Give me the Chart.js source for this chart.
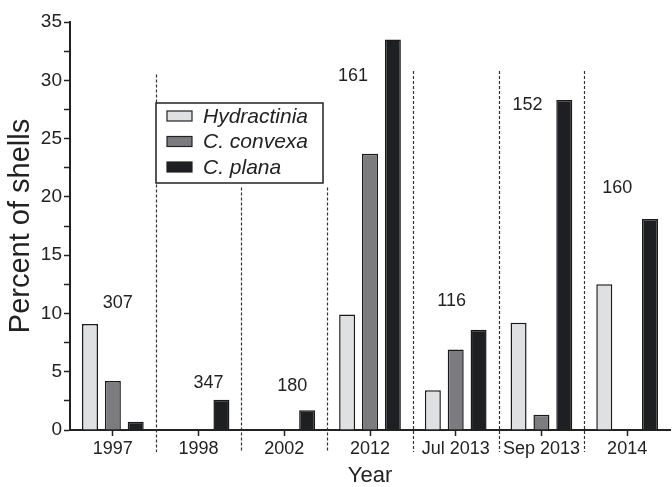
<!DOCTYPE html>
<html>
<head>
<meta charset="utf-8">
<script src="https://cdn.jsdelivr.net/npm/chart.js@4/dist/chart.umd.min.js"></script>
<style>
  html, body { margin: 0; padding: 0; background: #fff; }
  #wrap { width: 672px; height: 487px; }
</style>
</head>
<body>
<div id="wrap"><canvas id="c"></canvas></div>
<script>
// Sampling periods
const years = ['1997', '1998', '2002', '2012', 'Jul 2013', 'Sep 2013', '2014'];

// Percent of shells carrying each epibiont (null = none recorded)
const hydractinia = [9.1, null, null, 9.9, 3.4, 9.2, 12.5];
const convexa     = [4.2, null, null, 23.7, 6.9, 1.3, null];
const plana       = [0.7, 2.6, 1.7, 33.5, 8.6, 28.3, 18.1];

// Number of shells examined in each period
const sampleSizes = [307, 347, 180, 161, 116, 152, 160];

// Placement of the sample-size labels (y in percent, x shift in px)
const nLabelY  = [10.9, 4.0, 3.8, 30.4, 11.1, 27.9, 20.8];
const nLabelDx = [5, 10, 8, -17, -4, -14, -10];

// Height (in percent) reached by each dashed separator between periods
const dividerTop = [30.5, 20.8, 20.8, 30.8, 30.8, 30.8];

const FONT = "'Liberation Sans', Arial, Helvetica, sans-serif";
const INK = '#222';

const fills = ['#dfe0e2', '#7b7b80', '#1e1f22'];

const annotations = {
  id: 'annotations',
  afterDatasetsDraw(chart) {
    const ctx = chart.ctx;
    const x = chart.scales.x, y = chart.scales.y;
    const area = chart.chartArea;

    // dashed separators between periods
    ctx.save();
    ctx.strokeStyle = '#333';
    ctx.lineWidth = 1.2;
    ctx.setLineDash([3, 2]);
    dividerTop.forEach((top, i) => {
      const px = (x.getPixelForValue(i) + x.getPixelForValue(i + 1)) / 2;
      ctx.beginPath();
      ctx.moveTo(Math.round(px) + 0.5, y.getPixelForValue(top));
      ctx.lineTo(Math.round(px) + 0.5, area.bottom + 22);
      ctx.stroke();
    });
    ctx.restore();

    // sample sizes
    ctx.save();
    ctx.fillStyle = INK;
    ctx.font = '18px ' + FONT;
    ctx.textAlign = 'center';
    ctx.textBaseline = 'middle';
    sampleSizes.forEach((n, i) => {
      ctx.fillText(String(n), x.getPixelForValue(i) + nLabelDx[i], y.getPixelForValue(nLabelY[i]));
    });
    ctx.restore();

    // legend box
    const lx = area.left + 86, ly = 103, lw = 167, lh = 80;
    ctx.save();
    ctx.fillStyle = '#fff';
    ctx.fillRect(lx, ly, lw, lh);
    ctx.strokeStyle = INK;
    ctx.lineWidth = 1.5;
    ctx.strokeRect(lx, ly, lw, lh);
    ctx.font = 'italic 21px ' + FONT;
    ctx.textBaseline = 'middle';
    ctx.textAlign = 'left';
    chart.data.datasets.forEach((ds, i) => {
      const cy = ly + 13 + i * 25.5;
      ctx.fillStyle = ds.backgroundColor;
      ctx.fillRect(lx + 11, cy - 5, 25, 10);
      ctx.lineWidth = 1.2;
      ctx.strokeRect(lx + 11, cy - 5, 25, 10);
      ctx.fillStyle = INK;
      ctx.fillText(ds.label, lx + 47, cy + 1);
    });
    ctx.restore();
  }
};

const barStyle = { borderColor: '#1a1a1a', borderWidth: 1.5, categoryPercentage: 0.8, barPercentage: 0.7 };

new Chart(document.getElementById('c'), {
  type: 'bar',
  data: {
    labels: years,
    datasets: [
      Object.assign({ label: 'Hydractinia', data: hydractinia, backgroundColor: fills[0] }, barStyle),
      Object.assign({ label: 'C. convexa', data: convexa, backgroundColor: fills[1] }, barStyle),
      Object.assign({ label: 'C. plana', data: plana, backgroundColor: fills[2] }, barStyle)
    ]
  },
  options: {
    responsive: true,
    maintainAspectRatio: false,
    animation: false,
    layout: { padding: { top: 22, right: 2, left: 0, bottom: 0 } },
    plugins: { legend: { display: false }, tooltip: { enabled: false } },
    scales: {
      x: {
        afterFit(s) { s.height = 57; },
        grid: { display: true, drawOnChartArea: false, drawTicks: true, tickLength: 6, offset: false, color: INK, tickColor: INK, tickWidth: 1.5 },
        border: { display: true, color: INK, width: 2 },
        ticks: { color: INK, font: { family: FONT, size: 18 }, padding: 2, maxRotation: 0, autoSkip: false },
        title: { display: true, text: 'Year', color: INK, font: { family: FONT, size: 22, lineHeight: 1 }, padding: { top: 0, bottom: 0 } }
      },
      y: {
        min: 0, max: 35,
        afterFit(s) { s.width = 70; },
        grid: { display: true, drawOnChartArea: false, drawTicks: true, tickLength: 6, color: INK, tickColor: INK, tickWidth: 1.5 },
        border: { display: true, color: INK, width: 2 },
        ticks: {
          stepSize: 2.5, color: INK, font: { family: FONT, size: 19 }, padding: 2,
          callback: v => (v % 5 === 0 ? v : '')
        },
        title: { display: true, text: 'Percent of shells', color: INK, font: { family: FONT, size: 29 }, padding: { top: 4, bottom: 0 } }
      }
    }
  },
  plugins: [annotations]
});
</script>
</body>
</html>
